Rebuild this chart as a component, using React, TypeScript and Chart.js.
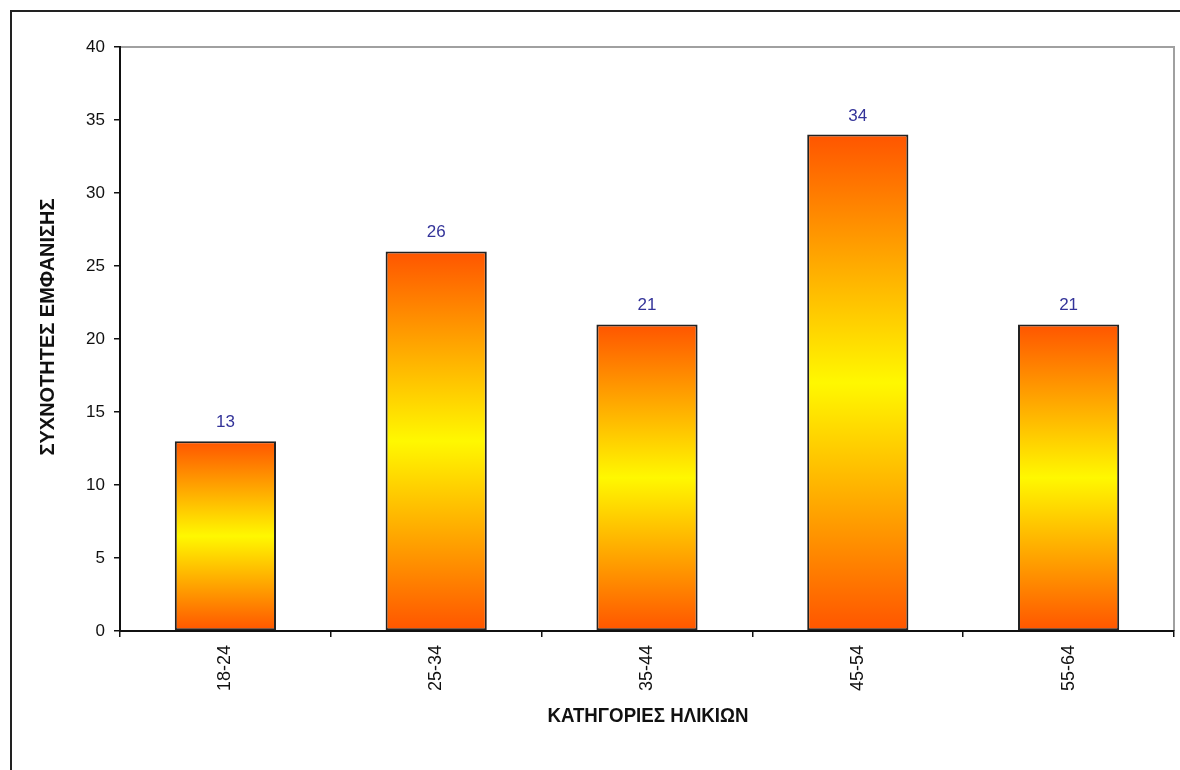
import React, { useEffect, useRef } from 'react';
import { Chart, registerables } from 'chart.js';

Chart.register(...registerables);

const categories = ['18-24', '25-34', '35-44', '45-54', '55-64'];
const frequencies = [13, 26, 21, 34, 21];
const yTickValues = [0, 5, 10, 15, 20, 25, 30, 35, 40];
const xTitleText = 'ΚΑΤΗΓΟΡΙΕΣ ΗΛΙΚΙΩΝ';
const yTitleText = 'ΣΥΧΝΟΤΗΤΕΣ ΕΜΦΑΝΙΣΗΣ';

const FONT = "'Liberation Sans', Arial, sans-serif";

const framePlugin = {
  id: 'frame',
  beforeDraw(chart: any) {
    const { ctx, chartArea } = chart;
    ctx.save();
    ctx.fillStyle = '#ffffff';
    ctx.fillRect(0, 0, chart.width, chart.height);
    ctx.strokeStyle = '#222222';
    ctx.lineWidth = 2;
    ctx.beginPath();
    ctx.moveTo(10, 11);
    ctx.lineTo(chart.width, 11);
    ctx.moveTo(11, 10);
    ctx.lineTo(11, chart.height);
    ctx.stroke();
    ctx.strokeStyle = '#a0a0a0';
    ctx.lineWidth = 2;
    ctx.beginPath();
    ctx.moveTo(chartArea.left, chartArea.top);
    ctx.lineTo(chartArea.right, chartArea.top);
    ctx.lineTo(chartArea.right, chartArea.bottom);
    ctx.stroke();
    ctx.restore();
  },
};

function drawFittedText(ctx: CanvasRenderingContext2D, text: string, cx: number, cy: number, targetWidth: number, rotation: number) {
  ctx.save();
  ctx.font = `bold 21px ${FONT}`;
  ctx.fillStyle = '#111111';
  ctx.textAlign = 'center';
  ctx.textBaseline = 'middle';
  const w = ctx.measureText(text).width;
  const sx = targetWidth / w;
  ctx.translate(cx, cy);
  ctx.rotate(rotation);
  ctx.scale(sx, 1);
  ctx.fillText(text, 0, 0);
  ctx.restore();
}

const labelsPlugin = {
  id: 'labelsAndTitles',
  afterDatasetsDraw(chart: any) {
    const { ctx } = chart;
    const meta = chart.getDatasetMeta(0);
    ctx.save();
    ctx.font = `17px ${FONT}`;
    ctx.fillStyle = '#333399';
    ctx.textAlign = 'center';
    ctx.textBaseline = 'alphabetic';
    meta.data.forEach((el: any, i: number) => {
      ctx.fillText(String(frequencies[i]), el.x, el.y - 14);
    });
    ctx.restore();
  },
  afterDraw(chart: any) {
    const { ctx, chartArea } = chart;
    const cx = (chartArea.left + chartArea.right) / 2;
    drawFittedText(ctx, xTitleText, cx + 1, 716, 201, 0);
    drawFittedText(ctx, yTitleText, 48, 327, 257, -Math.PI / 2);
  },
};

export default function App() {
  const canvasRef = useRef<HTMLCanvasElement | null>(null);

  useEffect(() => {
    document.body.style.margin = '0';
    const canvas = canvasRef.current;
    if (!canvas) return;
    const chart = new Chart(canvas, {
      type: 'bar',
      data: {
        labels: categories,
        datasets: [
          {
            data: frequencies,
            backgroundColor: (c: any) => {
              const ch = c.chart;
              const ys = ch.scales && ch.scales.y;
              if (!ys || c.type !== 'data' || !ch.chartArea) return '#FFAA00';
              const top = ys.getPixelForValue(c.raw);
              const base = ys.getPixelForValue(0);
              if (!isFinite(top) || !isFinite(base) || top === base) return '#FFAA00';
              const g = ch.ctx.createLinearGradient(0, top, 0, base);
              g.addColorStop(0, '#FF5500');
              g.addColorStop(0.5, '#FFF800');
              g.addColorStop(1, '#FF5500');
              return g;
            },
            borderColor: '#222222',
            borderWidth: 2,
            borderSkipped: false,
            barPercentage: 0.48,
            categoryPercentage: 1,
          },
        ],
      },
      options: {
        responsive: false,
        animation: false,
        devicePixelRatio: 1,
        layout: { padding: { top: 47, right: 6, bottom: 0, left: 0 } },
        plugins: {
          legend: { display: false },
          tooltip: { enabled: false },
          title: { display: false },
        },
        scales: {
          x: {
            offset: true,
            grid: {
              offset: true,
              drawOnChartArea: false,
              drawTicks: true,
              tickLength: 6,
              color: '#111111',
              lineWidth: 1.5,
            },
            border: { display: true, color: '#111111', width: 2 },
            ticks: {
              minRotation: 90,
              maxRotation: 90,
              autoSkip: false,
              padding: 8,
              color: '#111111',
              font: { family: FONT, size: 18 },
            },
            afterFit(scale: any) {
              scale.height = 139;
              scale.paddingLeft = 0;
              scale.paddingRight = 0;
            },
          },
          y: {
            min: yTickValues[0],
            max: yTickValues[yTickValues.length - 1],
            grid: {
              drawOnChartArea: false,
              drawTicks: true,
              tickLength: 6,
              color: '#111111',
              lineWidth: 1.5,
            },
            border: { display: true, color: '#111111', width: 2 },
            ticks: {
              stepSize: yTickValues[1] - yTickValues[0],
              padding: 9,
              color: '#111111',
              font: { family: FONT, size: 17 },
            },
            afterFit(scale: any) {
              scale.width = 120;
              scale.paddingTop = 0;
              scale.paddingBottom = 0;
            },
          },
        },
      },
      plugins: [framePlugin, labelsPlugin],
    });
    return () => chart.destroy();
  }, []);

  return (
    <div style={{ position: 'fixed', left: 0, top: 0, width: 1180, height: 770, background: '#fff' }}>
      <canvas ref={canvasRef} width={1180} height={770} style={{ display: 'block', width: 1180, height: 770 }} />
    </div>
  );
}
